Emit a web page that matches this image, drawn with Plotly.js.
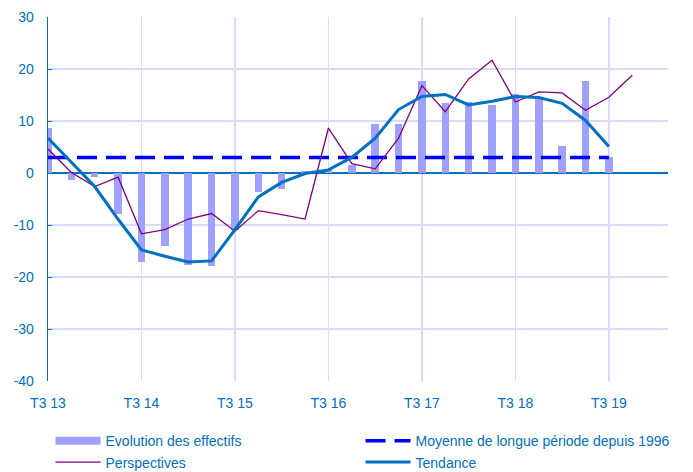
<!DOCTYPE html>
<html>
<head>
<meta charset="utf-8">
<script src="https://cdn.plot.ly/plotly-3.0.1.min.js"></script>
<style>html,body{margin:0;padding:0;background:#fff;}#chart{width:693px;height:472px;}</style>
</head>
<body>
<div id="chart"></div>
<script>
const quarters = ["T3 13","T4 13","T1 14","T2 14","T3 14","T4 14","T1 15","T2 15","T3 15","T4 15","T1 16","T2 16","T3 16","T4 16","T1 17","T2 17","T3 17","T4 17","T1 18","T2 18","T3 18","T4 18","T1 19","T2 19","T3 19","T4 19"];
const tickLabels = ["T3 13","T3 14","T3 15","T3 16","T3 17","T3 18","T3 19"];
const yTickVals = [-40,-30,-20,-10,0,10,20,30];
const yTickText = ["-40","-30","-20","-10","0","10","20","30"];
const effectifs = [8.7,-1.3,-0.7,-7.9,-17.1,-14.0,-17.6,-17.9,-10.9,-3.7,-3.0,0.4,0.6,1.6,9.5,9.5,17.6,13.5,13.6,13.1,15.2,14.7,5.1,17.6,3.0,null];
const perspectives = [4.6,0.1,-2.6,-0.8,-11.7,-10.9,-8.85,-7.8,-11.2,-7.25,-8.0,-8.85,8.65,1.8,0.8,6.7,16.8,11.8,18.1,21.7,13.65,15.6,15.4,12.05,14.55,18.8];
const tendance = [6.7,2.0,-2.6,-8.9,-14.8,-16.0,-17.1,-16.9,-10.9,-4.6,-1.8,-0.1,0.6,3.0,6.7,12.2,14.7,15.1,13.1,13.8,14.7,14.5,13.4,10.1,5.1,null];
const moyenne = [3,3,3,3,3,3,3,3,3,3,3,3,3,3,3,3,3,3,3,3,3,3,3,3,3,null];
const names = ["Evolution des effectifs","Moyenne de longue période depuis 1996","Perspectives","Tendance"];

const blue = "#0070C0";
const font = {family: "Arial, 'Liberation Sans', sans-serif", size: 14, color: blue};
const xr = [0, 26.53];
const gridc = "#DADAFF";

const traces = [
  {type:"bar", x: quarters, y: effectifs, name: names[0], marker:{color:"#A0A0FF"}, width:0.32, showlegend:false, hoverinfo:"skip"},
  {type:"scatter", mode:"lines", x:[null], y:[null], name: names[0], line:{color:"#A0A0FF", width:8}, legendrank:1},
  {type:"scatter", mode:"lines", x: quarters, y: moyenne, name: names[1], line:{color:"#0000FF", width:3.5, dash:"20px,9px"}, legendrank:2},
  {type:"scatter", mode:"lines", x: quarters, y: perspectives, name: names[2], line:{color:"#800080", width:1.3}, legendrank:3},
  {type:"scatter", mode:"lines", x: quarters, y: tendance, name: names[3], line:{color:blue, width:3}, legendrank:4}
];

const catAxis = {type:"category", categoryorder:"array", categoryarray: quarters, range: xr, fixedrange:true};

const layout = {
  width:693, height:472,
  margin:{l:48, r:25, t:17, b:91, pad:0, autoexpand:false},
  paper_bgcolor:"#fff", plot_bgcolor:"#fff",
  font: font,
  showlegend:true,
  bargap:0,
  xaxis: Object.assign({}, catAxis, {
    tickmode:"array", tickvals: tickLabels, ticktext: tickLabels,
    ticks:"", showgrid:true, gridcolor:gridc, gridwidth:1.5,
    showline:false, zeroline:false, tickfont: font, ticklabelstandoff: 12
  }),
  xaxis2: Object.assign({}, catAxis, {
    overlaying:"x", anchor:"free", position: 40/70,
    tickmode:"array", tickvals: tickLabels, showticklabels:false,
    ticks:"outside", ticklen:4, tickcolor: blue, tickwidth:1.3,
    showgrid:false, showline:false, zeroline:false
  }),
  xaxis3: Object.assign({}, catAxis, {
    overlaying:"x", anchor:"free", position: 40/70,
    tickmode:"array", tickvals: tickLabels, showticklabels:false,
    ticks:"inside", ticklen:4, tickcolor: blue, tickwidth:1.3,
    showgrid:false, showline:false, zeroline:false
  }),
  yaxis: {
    range:[-40,30], tickmode:"array", tickvals: yTickVals, ticktext: yTickText,
    showgrid:true, gridcolor:gridc, gridwidth:1.5,
    showline:true, linecolor: blue, linewidth:1.3,
    ticks:"inside", ticklen:4, tickcolor: blue,
    zeroline:true, zerolinecolor: blue, zerolinewidth:1.3,
    tickfont: font, ticklabelstandoff: 10, fixedrange:true
  },
  yaxis2: {
    overlaying:"y", side:"right", anchor:"x",
    range:[-40,30], tickmode:"array", tickvals: yTickVals, ticktext: yTickText,
    showgrid:false,
    showline:true, linecolor:"#8C8C8C", linewidth:1.3,
    ticks:"inside", ticklen:4, tickcolor:"#8C8C8C",
    zeroline:false, tickfont: font, fixedrange:true
  },
  legend:{
    orientation:"h", xref:"container", yref:"container",
    x: 0.0729, y: 0.099, xanchor:"left", yanchor:"top",
    entrywidth: 0.5, entrywidthmode:"fraction",
    font: font, itemwidth: 45, bgcolor:"rgba(0,0,0,0)"
  }
};

Plotly.newPlot("chart", traces, layout, {displayModeBar:false, staticPlot:true});
</script>
</body>
</html>
